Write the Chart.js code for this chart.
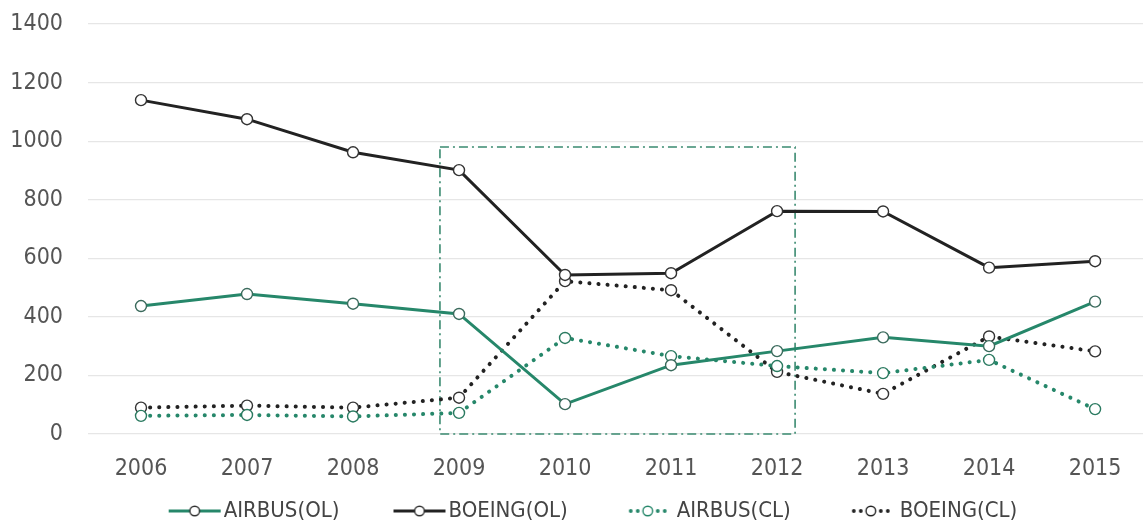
<!DOCTYPE html>
<html>
<head>
    <script src="https://cdn.jsdelivr.net/npm/chart.js@4.4.1/dist/chart.umd.min.js"></script>
    <style>
        body {
            margin: 0;
            padding: 0;
            background: #fff;
            overflow: hidden;
        }
        #wrap {
            position: relative;
            width: 1155px;
            height: 532px;
        }
    </style>
</head>
<body>
<div id="wrap">
    <canvas id="myChart"></canvas>
</div>
<script>
    const years = ['2006', '2007', '2008', '2009', '2010', '2011', '2012', '2013', '2014', '2015'];
    const airbusOL = [437, 478, 445, 410, 102, 235, 283, 330, 300, 452];
    const boeingOL = [1140, 1075, 962, 901, 543, 549, 761, 760, 568, 590];
    const airbusCL = [62, 65, 60, 72, 328, 266, 232, 208, 253, 85];
    const boeingCL = [90, 97, 90, 124, 522, 491, 212, 137, 333, 282];
    const yTicks = [0, 200, 400, 600, 800, 1000, 1200, 1400];
    // highlighted period box (category index range and top value)
    const boxFrom = 2.82;
    const boxTo = 6.17;
    const boxTop = 980;

    const TEAL = '#26876a';
    const BLACK = '#222222';
    const FONT = "'Liberation Sans Narrow', 'Arial Narrow', 'DejaVu Sans Condensed', sans-serif";

    // legend symbol: line (solid or dotted) with an open circle,
    // drawn toward the right of the canvas so it sits close to the text
    function legendIcon(color, dotted) {
        const c = document.createElement('canvas');
        c.width = 70;
        c.height = 14;
        const g = c.getContext('2d');
        const x0 = 16, x1 = 68, mid = 42;
        g.strokeStyle = color;
        g.lineWidth = 3;
        if (dotted) {
            g.fillStyle = color;
            [mid - 17, mid - 10, mid + 10, mid + 17].forEach(px => {
                g.beginPath();
                g.arc(px, 7, 1.9, 0, Math.PI * 2);
                g.fill();
            });
        } else {
            g.beginPath();
            g.moveTo(x0, 7);
            g.lineTo(x1, 7);
            g.stroke();
        }
        g.beginPath();
        g.arc(mid, 7, 4.8, 0, Math.PI * 2);
        g.fillStyle = '#fff';
        g.fill();
        g.lineWidth = 1.4;
        g.strokeStyle = dotted ? color : '#333';
        g.stroke();
        return c;
    }

    function series(label, data, color, dotted, ptBorder) {
        return {
            label: label,
            data: data,
            borderColor: color,
            backgroundColor: color,
            borderWidth: dotted ? 4 : 3,
            borderDash: dotted ? [0.1, 9] : [],
            borderCapStyle: dotted ? 'round' : 'butt',
            tension: 0,
            fill: false,
            pointRadius: 5.5,
            pointBorderWidth: 1.4,
            pointBackgroundColor: '#fff',
            pointBorderColor: ptBorder,
            icon: legendIcon(color, dotted)
        };
    }

    const boxPlugin = {
        id: 'periodBox',
        beforeDatasetsDraw(chart) {
            const x = chart.scales.x;
            const y = chart.scales.y;
            const ctx = chart.ctx;
            const l = x.getPixelForValue(boxFrom);
            const r = x.getPixelForValue(boxTo);
            const t = y.getPixelForValue(boxTop);
            const b = y.getPixelForValue(0);
            ctx.save();
            ctx.strokeStyle = '#3a8a70';
            ctx.lineWidth = 1.6;
            ctx.setLineDash([9, 4, 2, 4]);
            ctx.strokeRect(l, t, r - l, b - t);
            ctx.restore();
        }
    };

    // nudge the legend row a bit to the right, like the original
    const legendShift = {
        id: 'legendShift',
        afterLayout(chart) {
            chart.legend.left += 15;
            chart.legend.right += 15;
        }
    };

    const ctx = document.getElementById('myChart').getContext('2d');
    const myChart = new Chart(ctx, {
        type: 'line',
        data: {
            labels: years,
            datasets: [
                series('AIRBUS(OL)', airbusOL, TEAL, false, '#3a6a5c'),
                series('BOEING(OL)', boeingOL, BLACK, false, '#333'),
                series('AIRBUS(CL)', airbusCL, TEAL, true, '#2a7a60'),
                series('BOEING(CL)', boeingCL, BLACK, true, '#333')
            ]
        },
        options: {
            responsive: true,
            maintainAspectRatio: false,
            animation: false,
            layout: {
                padding: {top: 24, right: 5, left: 0, bottom: 0}
            },
            plugins: {
                tooltip: {enabled: false},
                legend: {
                    display: true,
                    position: 'bottom',
                    labels: {
                        usePointStyle: true,
                        pointStyleWidth: 50,
                        boxHeight: 14,
                        padding: 4,
                        color: '#444',
                        font: {family: FONT, size: 22},
                        generateLabels(chart) {
                            const n = chart.data.datasets.length;
                            return chart.data.datasets.map((ds, i) => ({
                                text: i < n - 1 ? ds.label + '       ' : ds.label,
                                pointStyle: ds.icon,
                                fillStyle: ds.borderColor,
                                strokeStyle: ds.borderColor,
                                lineWidth: 0,
                                fontColor: '#444',
                                hidden: false,
                                datasetIndex: i
                            }));
                        }
                    }
                }
            },
            scales: {
                x: {
                    offset: true,
                    grid: {display: false, drawTicks: false},
                    border: {display: false},
                    afterFit(scale) {
                        scale.height = 62;
                    },
                    ticks: {
                        color: '#555',
                        padding: 21,
                        font: {family: FONT, size: 23}
                    }
                },
                y: {
                    min: 0,
                    max: 1400,
                    afterBuildTicks(scale) {
                        scale.ticks = yTicks.map(v => ({value: v}));
                    },
                    afterFit(scale) {
                        scale.width = 88;
                        scale.paddingTop = 0;
                        scale.paddingBottom = 0;
                    },
                    grid: {color: '#e6e6e6', lineWidth: 1.2, drawTicks: false},
                    border: {display: false},
                    ticks: {
                        color: '#555',
                        padding: 25,
                        font: {family: FONT, size: 23},
                        callback: v => String(v)
                    }
                }
            }
        },
        plugins: [boxPlugin, legendShift]
    });
</script>
</body>
</html>
